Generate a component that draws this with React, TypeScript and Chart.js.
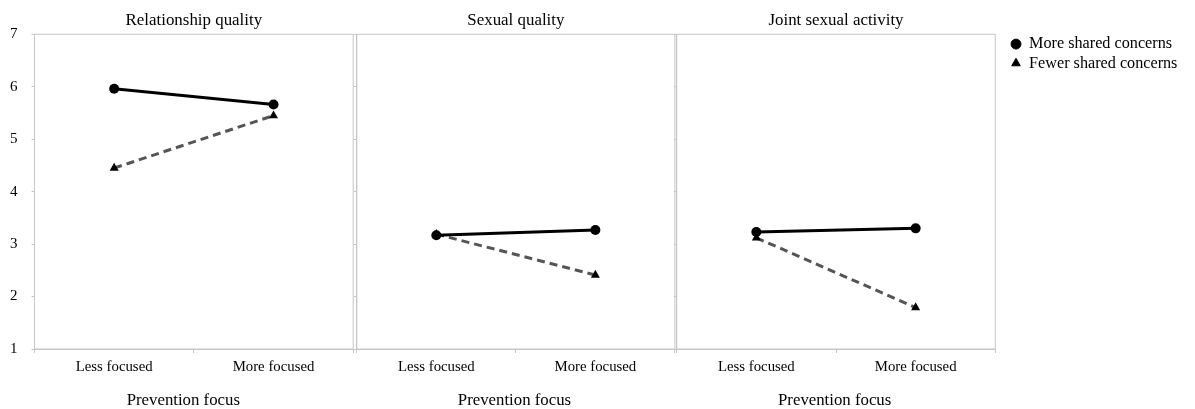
import React, { useEffect, useRef } from 'react';
import { Chart, registerables } from 'chart.js';

Chart.register(...registerables);

// ---- data ----
const categories = ['Less focused', 'More focused'];
const seriesNames = ['More shared concerns', 'Fewer shared concerns'];
const panelTitles = ['Relationship quality', 'Sexual quality', 'Joint sexual activity'];
const xAxisTitle = 'Prevention focus';

const relationshipMore = [5.96, 5.66];
const relationshipFewer = [4.45, 5.45];
const sexualMore = [3.17, 3.27];
const sexualFewer = [3.19, 2.41];
const jointMore = [3.23, 3.3];
const jointFewer = [3.12, 1.79];

const yMin = 1;
const yMax = 7;
const yStep = 1;

// ---- style ----
const FONT = "'Liberation Serif', 'Times New Roman', serif";
const FRAME_COLOR = '#c6c6c6';
const AXIS_TITLE_SIZE = 16.8;

const framePlugin = {
  id: 'frame',
  beforeDatasetsDraw(chart: any) {
    const { ctx, chartArea } = chart;
    const { left, top, right, bottom } = chartArea;
    ctx.save();
    ctx.strokeStyle = FRAME_COLOR;
    ctx.lineWidth = 1;
    ctx.strokeRect(left, top, right - left, bottom - top);
    ctx.restore();
  },
};

type PanelProps = {
  title: string;
  more: number[];
  fewer: number[];
  left: number;
  width: number;
  yWidth: number;
  rightSpacer: number;
  padRight: number;
  showY: boolean;
};

function Panel({ title, more, fewer, left, width, yWidth, rightSpacer, padRight, showY }: PanelProps) {
  const ref = useRef<HTMLCanvasElement>(null);
  useEffect(() => {
    const chart = new Chart(ref.current as HTMLCanvasElement, {
      type: 'line',
      data: {
        labels: categories,
        datasets: [
          {
            label: seriesNames[0],
            data: more,
            borderColor: '#000',
            borderWidth: 3,
            pointStyle: 'circle',
            pointRadius: 5,
            pointBackgroundColor: '#000',
            pointBorderColor: '#000',
            pointBorderWidth: 0,
            tension: 0,
          },
          {
            label: seriesNames[1],
            data: fewer,
            borderColor: '#555555',
            borderWidth: 3,
            borderDash: [8, 5],
            pointStyle: 'triangle',
            pointRadius: 5.2,
            pointBackgroundColor: '#000',
            pointBorderColor: '#000',
            pointBorderWidth: 0,
            tension: 0,
          },
        ],
      },
      options: {
        responsive: false,
        animation: false,
        events: [],
        layout: { autoPadding: false, padding: { left: 0, right: padRight, top: 0, bottom: 0 } },
        plugins: {
          legend: { display: false },
          tooltip: { enabled: false },
          title: {
            display: true,
            fullSize: false,
            text: title,
            color: '#000',
            font: { family: FONT, size: 16.9, weight: 'normal', lineHeight: 1.2 },
            padding: { top: 10.6, bottom: 3.4 },
          },
          subtitle: {
            display: true,
            fullSize: true,
            position: 'bottom',
            text: xAxisTitle,
            color: '#000',
            font: { family: FONT, size: AXIS_TITLE_SIZE, weight: 'normal', lineHeight: 1 },
            padding: { top: 0, bottom: 0 },
          },
        },
        scales: {
          x: {
            type: 'category',
            offset: true,
            grid: {
              offset: true,
              drawOnChartArea: false,
              drawTicks: true,
              tickLength: 4,
              color: FRAME_COLOR,
            },
            border: { color: FRAME_COLOR },
            ticks: {
              color: '#000',
              font: { family: FONT, size: 14.8 },
              padding: 5,
              maxRotation: 0,
              autoSkip: false,
            },
            afterFit: (s: any) => {
              s.height = 60 - AXIS_TITLE_SIZE;
            },
          },
          y: {
            min: yMin,
            max: yMax,
            ticks: {
              stepSize: yStep,
              display: showY,
              color: '#000',
              font: { family: FONT, size: 15 },
              padding: 14,
            },
            grid: { drawOnChartArea: false, tickLength: 3, color: FRAME_COLOR },
            border: { color: FRAME_COLOR },
            afterFit: (s: any) => {
              s.width = yWidth;
            },
          },
          spacer: {
            type: 'linear',
            position: 'right',
            display: rightSpacer > 0,
            min: yMin,
            max: yMax,
            grid: { display: false, drawTicks: false },
            border: { display: false },
            ticks: { display: false },
            afterFit: (s: any) => {
              s.width = rightSpacer;
            },
          },
        },
      } as any,
      plugins: [framePlugin],
    });
    return () => chart.destroy();
  }, []);
  return (
    <div style={{ position: 'absolute', left, top: 0, width, height: 409 }}>
      <canvas ref={ref} width={width} height={409} style={{ width, height: 409, display: 'block' }} />
    </div>
  );
}

function LegendBox({ left, top, width, height }: { left: number; top: number; width: number; height: number }) {
  const ref = useRef<HTMLCanvasElement>(null);
  useEffect(() => {
    const chart = new Chart(ref.current as HTMLCanvasElement, {
      type: 'line',
      data: {
        labels: [],
        datasets: [
          {
            label: seriesNames[0],
            data: [],
            pointStyle: 'circle',
            pointBackgroundColor: '#000',
            pointBorderColor: '#000',
            pointBorderWidth: 1,
            borderColor: '#000',
          },
          {
            label: seriesNames[1],
            data: [],
            pointStyle: 'triangle',
            pointBackgroundColor: '#000',
            pointBorderColor: '#000',
            pointBorderWidth: 1,
            borderColor: '#555555',
          },
        ],
      },
      options: {
        responsive: false,
        animation: false,
        events: [],
        layout: { padding: 0 },
        scales: { x: { display: false }, y: { display: false } },
        plugins: {
          tooltip: { enabled: false },
          legend: {
            display: true,
            position: 'top',
            align: 'start',
            labels: {
              usePointStyle: true,
              boxWidth: 10,
              boxHeight: 7,
              padding: 3,
              color: '#000',
              font: { family: FONT, size: 16.2 },
            },
          },
        },
      } as any,
    });
    return () => chart.destroy();
  }, []);
  return (
    <div style={{ position: 'absolute', left, top, width, height }}>
      <canvas ref={ref} width={width} height={height} style={{ width, height, display: 'block' }} />
    </div>
  );
}

export default function App() {
  return (
    <div
      style={{
        position: 'fixed',
        left: 0,
        top: 0,
        width: 1195,
        height: 409,
        background: '#fff',
        overflow: 'hidden',
      }}
    >
      <Panel title={panelTitles[0]} more={relationshipMore} fewer={relationshipFewer} left={0} width={367} yWidth={34.5} rightSpacer={13.4} padRight={0.4} showY={true} />
      <Panel title={panelTitles[1]} more={sexualMore} fewer={sexualFewer} left={353.5} width={324} yWidth={2.8} rightSpacer={0} padRight={3.1} showY={false} />
      <Panel title={panelTitles[2]} more={jointMore} fewer={jointFewer} left={674.3} width={324} yWidth={2.7} rightSpacer={0} padRight={2.7} showY={false} />
      <LegendBox left={1008} top={33.3} width={187} height={80} />
    </div>
  );
}
